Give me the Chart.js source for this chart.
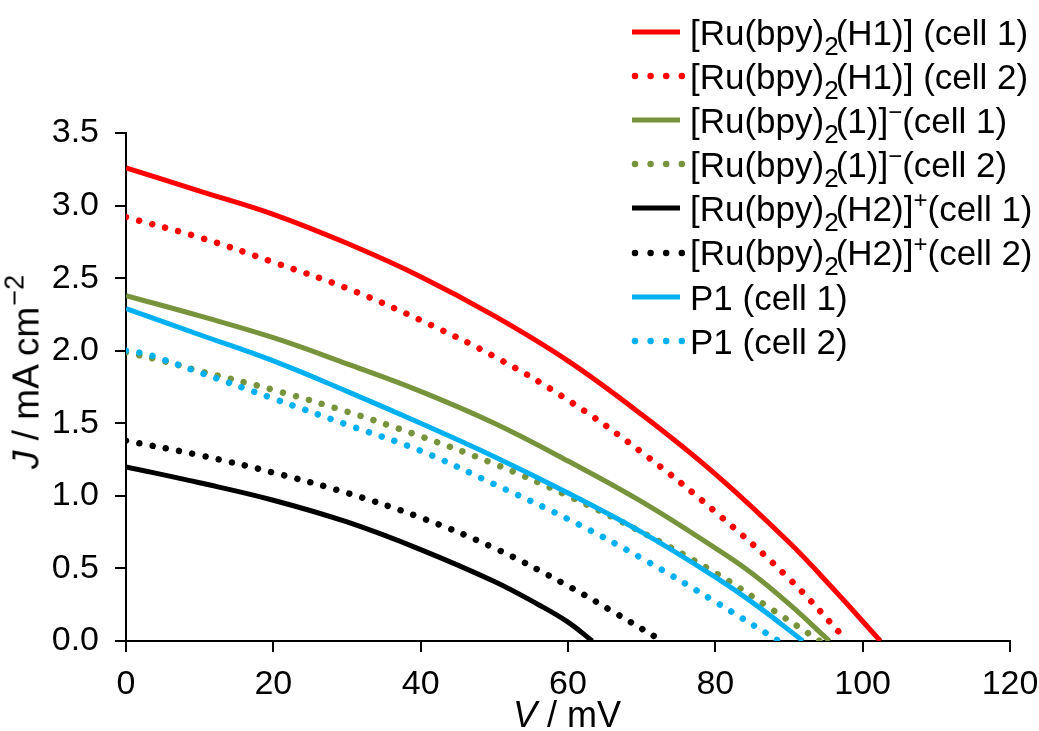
<!DOCTYPE html>
<html>
<head>
<meta charset="utf-8">
<script src="https://cdn.jsdelivr.net/npm/chart.js@4"></script>
<style>
  html, body { margin: 0; padding: 0; background: #fff; }
  #wrap { position: relative; width: 1039px; height: 731px; overflow: hidden; font-family: "Liberation Sans", Arial, sans-serif; color: #000; }
  #wrap canvas { position: absolute; left: 0; top: 0; }
  .lg { position: absolute; left: 0; top: 0; white-space: nowrap; font-size: 35px; line-height: 35px; }
  .lg .t { position: absolute; left: 690px; white-space: nowrap; }
  .lg svg { position: absolute; left: 628px; }
  .sub { position: relative; top: 10px; font-size: 26px; margin-right: -3px; }
  .sup { position: relative; top: -13px; font-size: 24px; }
  .ttl { position: absolute; white-space: nowrap; font-size: 36px; line-height: 36px; }
</style>
</head>
<body>
<div id="wrap">
  <canvas id="c" width="1039" height="731"></canvas>
  <div class="lg" id="legend"></div>
  <div class="ttl" id="ytitle" style="left:28px; top:372px; font-size:37px; transform: translate(-50%,-50%) rotate(-90deg);"><i>J</i> / mA cm<span class="sup" style="top:-15px; font-size:27px; margin-left:1px">−2</span></div>
  <div class="ttl" id="xtitle" style="left:567px; top:715px; transform: translate(-50%,-50%);"><i>V</i> / mV</div>
</div>
<script>
// ---- data (V in mV, J in mA cm^-2) ----
const xTicks = [0, 20, 40, 60, 80, 100, 120];
const yTicks = [0.0, 0.5, 1.0, 1.5, 2.0, 2.5, 3.0, 3.5];

const h1Cell1V = [0, 10, 20, 30, 40, 50, 60, 70, 80, 90, 96, 102.4];
const h1Cell1J = [3.26, 3.10, 2.94, 2.74, 2.51, 2.24, 1.93, 1.56, 1.15, 0.68, 0.36, 0];

const h1Cell2V = [0, 10, 20, 30, 40, 50, 60, 70, 80, 90, 97.9];
const h1Cell2J = [2.92, 2.78, 2.61, 2.43, 2.21, 1.96, 1.66, 1.30, 0.89, 0.43, 0];

const c1Cell1V = [0, 10, 20, 30, 40, 50, 60, 70, 80, 85, 90, 95.5];
const c1Cell1J = [2.38, 2.24, 2.09, 1.91, 1.72, 1.50, 1.24, 0.96, 0.64, 0.465, 0.255, 0];

const c1Cell2V = [0, 5, 10, 20, 30, 40, 50, 60, 70, 80, 87, 94.2];
const c1Cell2J = [1.99, 1.93, 1.86, 1.73, 1.58, 1.41, 1.22, 1.00, 0.75, 0.47, 0.24, 0];

const h2Cell1V = [0, 10, 20, 30, 40, 50, 56, 60, 63.3];
const h2Cell1J = [1.20, 1.09, 0.97, 0.82, 0.63, 0.41, 0.25, 0.13, 0];

const h2Cell2V = [0, 10, 20, 30, 40, 50, 60, 66.5, 72.8];
const h2Cell2J = [1.38, 1.28, 1.16, 1.02, 0.85, 0.64, 0.38, 0.19, 0];

const p1Cell1V = [0, 10, 20, 30, 40, 50, 60, 70, 80, 86, 91.9];
const p1Cell1J = [2.29, 2.11, 1.93, 1.72, 1.50, 1.27, 1.02, 0.75, 0.44, 0.23, 0];

const p1Cell2V = [0, 2.5, 5, 10, 20, 30, 40, 50, 60, 70, 80, 88.6];
const p1Cell2J = [2.00, 1.98, 1.94, 1.85, 1.67, 1.49, 1.31, 1.08, 0.84, 0.57, 0.27, 0];

const seriesLabels = [
  '[Ru(bpy)<span class="sub">2</span>(H1)] (cell 1)',
  '[Ru(bpy)<span class="sub">2</span>(H1)] (cell 2)',
  '[Ru(bpy)<span class="sub">2</span>(1)]<span class="sup">−</span>(cell 1)',
  '[Ru(bpy)<span class="sub">2</span>(1)]<span class="sup">−</span>(cell 2)',
  '[Ru(bpy)<span class="sub">2</span>(H2)]<span class="sup">+</span>(cell 1)',
  '[Ru(bpy)<span class="sub">2</span>(H2)]<span class="sup">+</span>(cell 2)',
  'P1 (cell 1)',
  'P1 (cell 2)'
];
const seriesColors = ['#FF0000', '#FF0000', '#77933C', '#77933C', '#000000', '#000000', '#00B0F0', '#00B0F0'];
const seriesDotted = [false, true, false, true, false, true, false, true];
const seriesV = [h1Cell1V, h1Cell2V, c1Cell1V, c1Cell2V, h2Cell1V, h2Cell2V, p1Cell1V, p1Cell2V];
const seriesJ = [h1Cell1J, h1Cell2J, c1Cell1J, c1Cell2J, h2Cell1J, h2Cell2J, p1Cell1J, p1Cell2J];

// ---- build datasets ----
const datasets = seriesV.map((vs, i) => ({
  label: seriesLabels[i].replace(/<[^>]+>/g, ''),
  data: vs.map((v, k) => ({ x: v, y: seriesJ[i][k] })),
  borderColor: seriesColors[i],
  backgroundColor: seriesColors[i],
  borderWidth: seriesDotted[i] ? 6.5 : 5,
  borderDash: seriesDotted[i] ? [0.001, 13.5] : [],
  borderCapStyle: seriesDotted[i] ? 'round' : 'butt',
  borderJoinStyle: 'round',
  tension: 0.4,
  pointRadius: 0,
  fill: false,
  order: seriesV.length - i
}));

const FONT = '"Liberation Sans", Arial, sans-serif';

new Chart(document.getElementById('c'), {
  type: 'line',
  data: { datasets },
  options: {
    responsive: false,
    animation: false,
    events: [],
    layout: { padding: { top: 133, right: 29, left: 0, bottom: 0 } },
    plugins: { legend: { display: false }, tooltip: { enabled: false }, title: { display: false } },
    scales: {
      x: {
        type: 'linear', min: xTicks[0], max: xTicks[xTicks.length - 1],
        afterFit(s) { s.height = 90; s.paddingLeft = 0; s.paddingRight = 0; },
        afterBuildTicks(s) { s.ticks = xTicks.map(v => ({ value: v })); },
        ticks: { color: '#000', font: { family: FONT, size: 34 }, padding: 12, maxRotation: 0, autoSkip: false,
                 callback: v => String(v) },
        grid: { drawOnChartArea: false, drawTicks: true, tickLength: 11, color: '#000', lineWidth: 2 },
        border: { display: true, color: '#000', width: 2 }
      },
      y: {
        type: 'linear', min: yTicks[0], max: yTicks[yTicks.length - 1],
        afterFit(s) { s.width = 126; s.paddingTop = 0; s.paddingBottom = 0; },
        afterBuildTicks(s) { s.ticks = yTicks.map(v => ({ value: v })); },
        ticks: { color: '#000', font: { family: FONT, size: 34 }, padding: 16, autoSkip: false,
                 callback: v => Number(v).toFixed(1) },
        grid: { drawOnChartArea: false, drawTicks: true, tickLength: 11, color: '#000', lineWidth: 2 },
        border: { display: true, color: '#000', width: 2 }
      }
    }
  }
});

// ---- legend (HTML overlay) ----
const legend = document.getElementById('legend');
const rowY0 = 32, rowStep = 44.1;
seriesLabels.forEach((lab, i) => {
  const cy = rowY0 + rowStep * i;
  const svgNS = 'http://www.w3.org/2000/svg';
  const svg = document.createElementNS(svgNS, 'svg');
  svg.setAttribute('width', '60'); svg.setAttribute('height', '14');
  svg.style.top = (cy - 7) + 'px';
  const ln = document.createElementNS(svgNS, 'line');
  ln.setAttribute('y1', '7'); ln.setAttribute('y2', '7');
  ln.setAttribute('stroke', seriesColors[i]);
  if (seriesDotted[i]) {
    ln.setAttribute('x1', '7'); ln.setAttribute('x2', '54');
    ln.setAttribute('stroke-width', '6.5');
    ln.setAttribute('stroke-linecap', 'round');
    ln.setAttribute('stroke-dasharray', '0.001 15.6');
  } else {
    ln.setAttribute('x1', '4'); ln.setAttribute('x2', '52');
    ln.setAttribute('stroke-width', '5');
  }
  svg.appendChild(ln);
  legend.appendChild(svg);
  const t = document.createElement('div');
  t.className = 't';
  t.innerHTML = lab;
  t.style.top = (cy + 12.5 - 29.6) + 'px';
  legend.appendChild(t);
});
</script>
</body>
</html>
